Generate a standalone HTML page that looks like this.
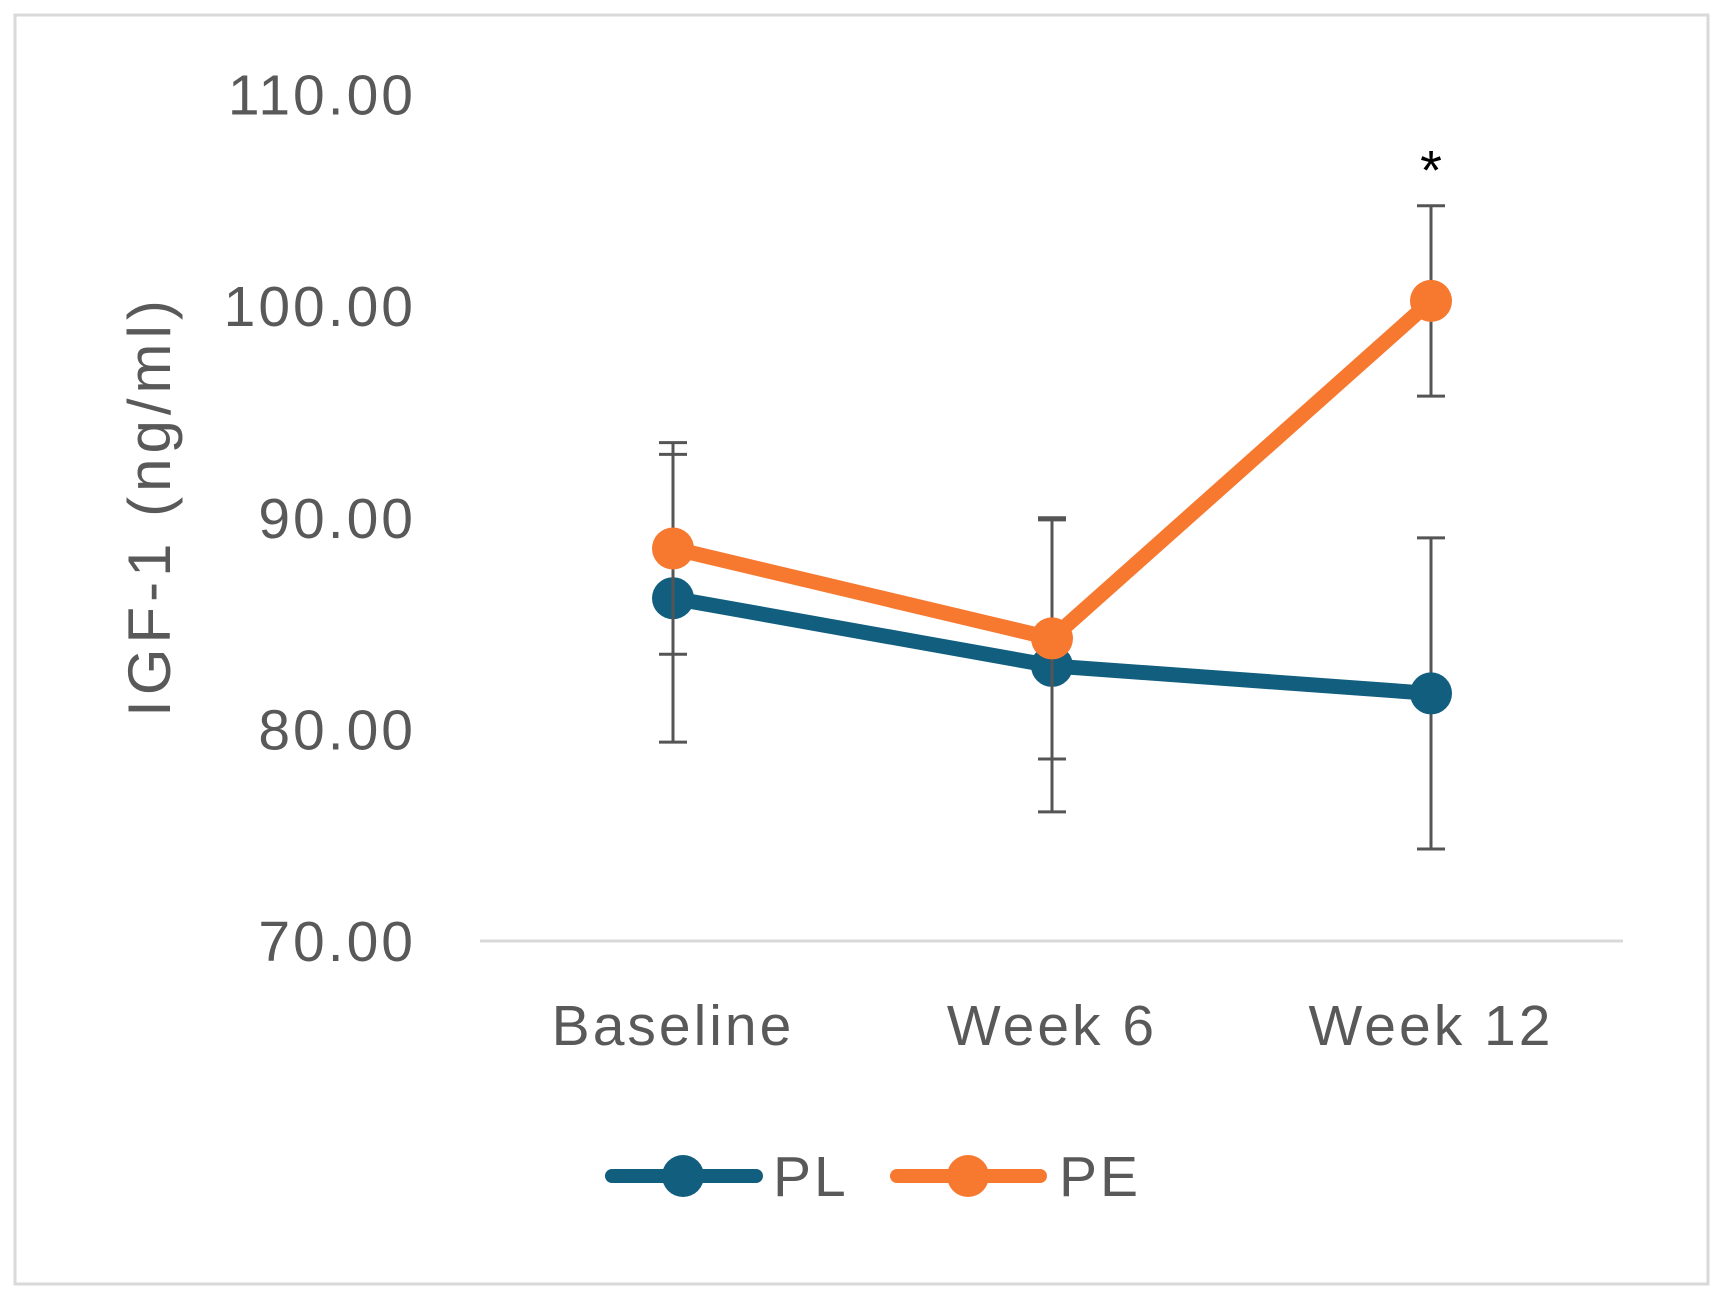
<!DOCTYPE html>
<html><head><meta charset="utf-8"><style>
html,body{margin:0;padding:0;background:#fff;}
svg{display:block;font-family:"Liberation Sans",sans-serif;}
</style></head><body>
<svg id="chart" width="1724" height="1308" viewBox="0 0 1724 1308">
<rect x="15" y="15" width="1693" height="1269" fill="#fff" stroke="#d9d9d9" stroke-width="3"/>
<g id="plot"></g>
</svg>
<script>
const categories = ["Baseline", "Week 6", "Week 12"];
const plValues = [86.2, 83.0, 81.7];
const plErrors = [6.8, 6.9, 7.35];
const peValues = [88.55, 84.3, 100.25];
const peErrors = [5.0, 5.7, 4.5];
const yTicks = [70, 80, 90, 100, 110];
const yTickLabels = ["70.00", "80.00", "90.00", "100.00", "110.00"];

const NS = "http://www.w3.org/2000/svg";
const g = document.getElementById("plot");
const x = i => 673 + i * 379;
const y = v => 941 - (v - 70) * 21.16;
function mk(tag, attrs, parent) {
  const e = document.createElementNS(NS, tag);
  for (const k in attrs) e.setAttribute(k, attrs[k]);
  (parent || g).appendChild(e);
  return e;
}
let ax = mk("line", {x1: 480, x2: 1623, y1: y(70), y2: y(70), stroke: "#d9d9d9", "stroke-width": 3});


yTicks.forEach((t, i) => {
  const tx = mk("text", {x: 416, y: y(t) + 20, "text-anchor": "end", "font-size": 57, "letter-spacing": 3, fill: "#595959"});
  tx.textContent = yTickLabels[i];
  
  
});
categories.forEach((c, i) => {
  const tx = mk("text", {x: x(i), y: 1045, "text-anchor": "middle", "font-size": 57, "letter-spacing": 3, fill: "#595959"});
  tx.textContent = c;
  
  
});
const yt = mk("text", {x: 0, y: 0, transform: "translate(170,506) rotate(-90)", "text-anchor": "middle", "font-size": 60, "letter-spacing": 5, fill: "#595959"});
yt.textContent = "IGF-1 (ng/ml)";



function series(vals, errs, color, name) {
  const sg = mk("g", {});
  
  
  vals.forEach((v, i) => {
    const eg = mk("g", {stroke: "#555", "stroke-width": 3}, sg);
    
    
    mk("line", {x1: x(i), x2: x(i), y1: y(v + errs[i]), y2: y(v - errs[i])}, eg);
    mk("line", {x1: x(i) - 14, x2: x(i) + 14, y1: y(v + errs[i]), y2: y(v + errs[i])}, eg);
    mk("line", {x1: x(i) - 14, x2: x(i) + 14, y1: y(v - errs[i]), y2: y(v - errs[i])}, eg);
  });
  const ln = mk("polyline", {points: vals.map((v, i) => x(i) + "," + y(v)).join(" "), fill: "none", stroke: color, "stroke-width": 15, "stroke-linejoin": "round"}, sg);
  
  
  vals.forEach((v, i) => {
    const c = mk("circle", {cx: x(i), cy: y(v), r: 21, fill: color}, sg);
    
    
  });
}
series(plValues, plErrors, "#115e7f", "pl");
series(peValues, peErrors, "#f7782f", "pe");
const star = mk("text", {x: x(2), y: y(peValues[2] + peErrors[2]) - 16, "text-anchor": "middle", "font-size": 56, fill: "#000"});
star.textContent = "*";



function legend(x1, x2, cx, tx, color, label, name) {
  const lg = mk("g", {});
  
  
  mk("line", {x1: x1, x2: x2, y1: 1176, y2: 1176, stroke: color, "stroke-width": 14, "stroke-linecap": "round"}, lg);
  mk("circle", {cx: cx, cy: 1176, r: 21, fill: color}, lg);
  const t = mk("text", {x: tx, y: 1196, "font-size": 57, "letter-spacing": 3, fill: "#595959"}, lg);
  t.textContent = label;
}
legend(612, 756, 683, 773, "#115e7f", "PL", "pl");
legend(897, 1040, 968, 1059, "#f7782f", "PE", "pe");
</script>
</body></html>
